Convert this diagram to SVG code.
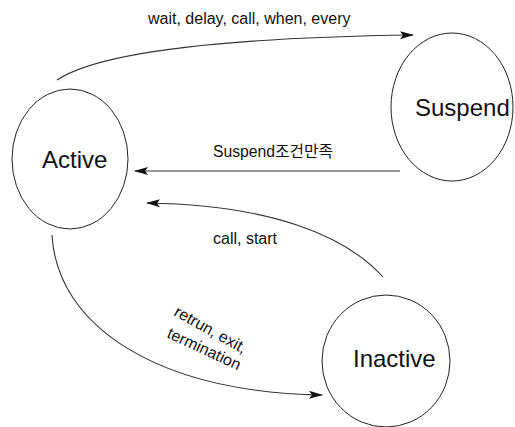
<svg xmlns="http://www.w3.org/2000/svg" width="515" height="427" viewBox="0 0 515 427">
<style>
.node{fill:none;stroke:#222;stroke-width:1}
.name{font-family:"Liberation Sans",Arial,sans-serif;font-size:24px;fill:#111}
.lbl{font-family:"Liberation Sans",Arial,"Noto Sans CJK KR",sans-serif;font-size:16px;fill:#111}
.edge{fill:none;stroke:#333;stroke-width:1.1}
</style>
<defs>
<marker id="ah" markerWidth="14" markerHeight="8" refX="13" refY="4" orient="auto" markerUnits="userSpaceOnUse">
<path d="M0,0 L14,4 L0,8 L3,4 Z" fill="#111"/>
</marker>
</defs>
<rect width="515" height="427" fill="#fff"/>
<g id="connectors">
<path class="edge" d="M57,80 C95,55 200,38 413,35" marker-end="url(#ah)"/>
<text class="lbl" x="148" y="24">wait, delay, call, when, every</text>
<path class="edge" d="M400,171 L135,171" marker-end="url(#ah)"/>
<text class="lbl" x="213" y="157" textLength="120" lengthAdjust="spacingAndGlyphs">Suspend조건만족</text>
<path class="edge" d="M383,277 C345,235 270,205 147,203" marker-end="url(#ah)"/>
<text class="lbl" x="213" y="244">call, start</text>
<path class="edge" d="M52,235 C57,325 155,392 322,395" marker-end="url(#ah)"/>
<text class="lbl" transform="translate(173,315) rotate(29)">retrun, exit,</text>
<text class="lbl" transform="translate(166,337) rotate(25)">termination</text>
</g>
<g id="active">
<ellipse class="node" cx="70" cy="159" rx="58" ry="70"/>
<text class="name" x="42" y="168">Active</text>
</g>
<g id="suspend">
<ellipse class="node" cx="452" cy="107" rx="61" ry="74"/>
<text class="name" x="415" y="116">Suspend</text>
</g>
<g id="inactive">
<ellipse class="node" cx="386" cy="361" rx="64" ry="66"/>
<text class="name" x="353" y="367">Inactive</text>
</g>
</svg>
